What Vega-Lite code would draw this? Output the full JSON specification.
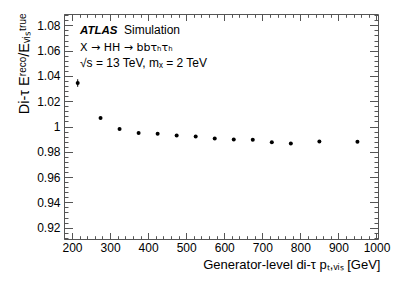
{
 "$schema": "https://vega.github.io/schema/vega-lite/v6.json",
 "width": 314, "height": 225,
 "autosize": {"type": "none"},
 "padding": {"left": 64, "top": 14, "right": 21, "bottom": 47},
 "config": {"view": {"stroke": null}, "font": "Liberation Sans",
  "axis": {"grid": false, "labelFont": "Liberation Sans", "labelFontSize": 12, "labelColor": "#000", "domainColor": "#555", "tickColor": "#555", "titleFont": "Liberation Sans", "titleFontWeight": "normal", "titleColor": "#000", "labelFlush": false, "labelOverlap": false}},
 "datasets": {"pts": [
  {"x": 215, "y": 1.0344, "ylo": 1.0314, "yhi": 1.0374},
  {"x": 275, "y": 1.0067, "ylo": 1.0059, "yhi": 1.0075},
  {"x": 325, "y": 0.998, "ylo": 0.9975, "yhi": 0.9985},
  {"x": 375, "y": 0.9948, "ylo": 0.9944, "yhi": 0.9952},
  {"x": 425, "y": 0.9942, "ylo": 0.9938, "yhi": 0.9946},
  {"x": 475, "y": 0.9929, "ylo": 0.9925, "yhi": 0.9933},
  {"x": 525, "y": 0.992, "ylo": 0.9916, "yhi": 0.9924},
  {"x": 575, "y": 0.9905, "ylo": 0.9901, "yhi": 0.9909},
  {"x": 625, "y": 0.9897, "ylo": 0.9893, "yhi": 0.9901},
  {"x": 675, "y": 0.9895, "ylo": 0.9891, "yhi": 0.9899},
  {"x": 725, "y": 0.9876, "ylo": 0.9872, "yhi": 0.988},
  {"x": 775, "y": 0.9865, "ylo": 0.9861, "yhi": 0.9869},
  {"x": 850, "y": 0.9881, "ylo": 0.9877, "yhi": 0.9885},
  {"x": 950, "y": 0.9879, "ylo": 0.9875, "yhi": 0.9883}
 ]},
 "data": {"name": "pts"},
 "resolve": {"axis": {"x": "independent", "y": "independent"}},
 "layer": [
  {"mark": {"type": "rule", "color": "#000", "strokeWidth": 1},
   "encoding": {
    "x": {"field": "x", "type": "quantitative", "scale": {"domain": [179, 1004], "nice": false, "zero": false},
      "axis": {"orient": "bottom", "values": [180,200,220,240,260,280,300,320,340,360,380,400,420,440,460,480,500,520,540,560,580,600,620,640,660,680,700,720,740,760,780,800,820,840,860,880,900,920,940,960,980,1000], "tickSize": -3.3, "labels": false, "domain": false, "title": null}},
    "y": {"field": "ylo", "type": "quantitative", "scale": {"domain": [0.911, 1.089], "nice": false, "zero": false},
      "axis": {"orient": "left", "values": [0.912,0.916,0.92,0.924,0.928,0.932,0.936,0.94,0.944,0.948,0.952,0.956,0.96,0.964,0.968,0.972,0.976,0.98,0.984,0.988,0.992,0.996,1.0,1.004,1.008,1.012,1.016,1.02,1.024,1.028,1.032,1.036,1.04,1.044,1.048,1.052,1.056,1.06,1.064,1.068,1.072,1.076,1.08,1.084,1.088], "tickSize": -4, "labels": false, "domain": false, "title": null}},
    "y2": {"field": "yhi"}
   }},
  {"mark": {"type": "circle", "color": "#000", "opacity": 1, "size": 16},
   "encoding": {
    "x": {"field": "x", "type": "quantitative",
      "axis": {"orient": "bottom", "values": [200,300,400,500,600,700,800,900,1000], "format": "d", "tickSize": -6.5, "labelPadding": 9.5, "domain": true,
        "title": "Generator-level di-τ pₜ,ᵥᵢₛ [GeV]", "titleFontSize": 13, "titleAnchor": "end", "titleAlign": "right", "titleBaseline": "alphabetic", "titleX": 316, "titleY": 29}},
    "y": {"field": "y", "type": "quantitative",
      "axis": {"orient": "left", "values": [0.92,0.94,0.96,0.98,1.0,1.02,1.04,1.06,1.08], "format": ".2~f", "tickSize": -8.5, "labelPadding": 12.5, "domain": true,
        "title": "Di-τ Eʳᵉᶜᵒ/Eᵥᵢₛᵗʳᵘᵉ", "titleFontSize": 14.5, "titleAngle": -90, "titleAnchor": "end", "titleAlign": "right", "titleBaseline": "alphabetic", "titleX": -36, "titleY": -1}}
   }},
  {"mark": {"type": "circle", "opacity": 0},
   "encoding": {
    "x": {"field": "x", "type": "quantitative",
      "axis": {"orient": "top", "values": [200,300,400,500,600,700,800,900,1000], "tickSize": -6.5, "labels": false, "domain": true, "title": null}},
    "y": {"field": "y", "type": "quantitative",
      "axis": {"orient": "right", "values": [0.92,0.94,0.96,0.98,1.0,1.02,1.04,1.06,1.08], "tickSize": -8.5, "labels": false, "domain": true, "title": null}}
   }},
  {"mark": {"type": "circle", "opacity": 0},
   "encoding": {
    "x": {"field": "x", "type": "quantitative",
      "axis": {"orient": "top", "values": [180,200,220,240,260,280,300,320,340,360,380,400,420,440,460,480,500,520,540,560,580,600,620,640,660,680,700,720,740,760,780,800,820,840,860,880,900,920,940,960,980,1000], "tickSize": -3.3, "labels": false, "domain": false, "title": null}},
    "y": {"field": "y", "type": "quantitative",
      "axis": {"orient": "right", "values": [0.912,0.916,0.92,0.924,0.928,0.932,0.936,0.94,0.944,0.948,0.952,0.956,0.96,0.964,0.968,0.972,0.976,0.98,0.984,0.988,0.992,0.996,1.0,1.004,1.008,1.012,1.016,1.02,1.024,1.028,1.032,1.036,1.04,1.044,1.048,1.052,1.056,1.06,1.064,1.068,1.072,1.076,1.08,1.084,1.088], "tickSize": -4, "labels": false, "domain": false, "title": null}}
   }},
  {"data": {"values": [{}]},
   "mark": {"type": "text", "text": "ATLAS", "font": "Liberation Sans", "fontWeight": "bold", "fontStyle": "italic", "fontSize": 11.5, "align": "left", "baseline": "alphabetic", "color": "#000"},
   "encoding": {"x": {"datum": 221, "type": "quantitative", "axis": null}, "y": {"datum": 1.0732, "type": "quantitative", "axis": null}}},
  {"data": {"values": [{}]},
   "mark": {"type": "text", "text": "Simulation", "font": "Liberation Sans", "fontSize": 12, "align": "left", "baseline": "alphabetic", "color": "#000"},
   "encoding": {"x": {"datum": 336.6, "type": "quantitative", "axis": null}, "y": {"datum": 1.0732, "type": "quantitative", "axis": null}}},
  {"data": {"values": [{}]},
   "mark": {"type": "text", "text": "X → HH → bbτₕτₕ", "font": "DejaVu Sans", "fontSize": 11, "align": "left", "baseline": "alphabetic", "color": "#000"},
   "encoding": {"x": {"datum": 221, "type": "quantitative", "axis": null}, "y": {"datum": 1.0597, "type": "quantitative", "axis": null}}},
  {"data": {"values": [{}]},
   "mark": {"type": "text", "text": "√s = 13 TeV, mₓ = 2 TeV", "font": "Liberation Sans", "fontSize": 12, "align": "left", "baseline": "alphabetic", "color": "#000"},
   "encoding": {"x": {"datum": 221, "type": "quantitative", "axis": null}, "y": {"datum": 1.0471, "type": "quantitative", "axis": null}}}
 ]
}
